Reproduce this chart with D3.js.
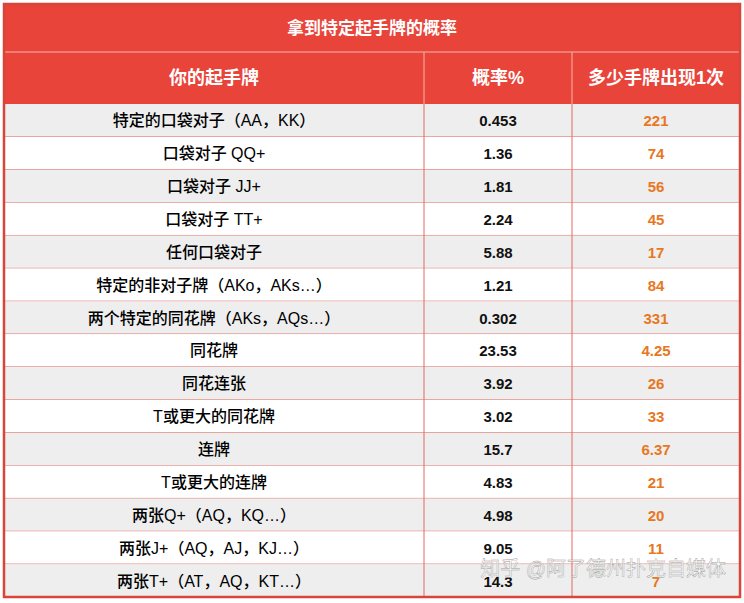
<!DOCTYPE html>
<html><head><meta charset="utf-8">
<script src="https://cdn.jsdelivr.net/npm/d3@7"></script>
<style>body{margin:0;background:#fff}</style>
</head><body><div id="chart"></div>
<script>
const title = "拿到特定起手牌的概率";
const headers = ["你的起手牌", "概率%", "多少手牌出现1次"];
const hands = ["特定的口袋对子（AA，KK）","口袋对子  QQ+","口袋对子  JJ+","口袋对子  TT+","任何口袋对子","特定的非对子牌（AKo，AKs…）","两个特定的同花牌（AKs，AQs…）","同花牌","同花连张","T或更大的同花牌","连牌","T或更大的连牌","两张Q+（AQ，KQ…）","两张J+（AQ，AJ，KJ…）","两张T+（AT，AQ，KT…）"];
const probs = ["0.453","1.36","1.81","2.24","5.88","1.21","0.302","23.53","3.92","3.02","15.7","4.83","4.98","9.05","14.3"];
const every = ["221","74","56","45","17","84","331","4.25","26","33","6.37","21","20","11","7"];

const W = 744, H = 603, L = 4, R = 740, T = 4, B = 597;
const red = "#e8443a", font = "'Liberation Sans','Noto Sans CJK SC',sans-serif";
const svg = d3.select("#chart").append("svg").attr("width", W).attr("height", H);
const cols = [L, 424, 572, R];
const y = d3.scaleBand().domain(d3.range(hands.length)).range([104, B]);

svg.append("rect").attr("x", L).attr("y", T).attr("width", R - L).attr("height", 100).attr("fill", red);
svg.append("line").attr("x1", L).attr("x2", R).attr("y1", 52).attr("y2", 52).attr("stroke", "#f6b5ae");
svg.append("text").attr("x", W / 2).attr("y", 34).attr("text-anchor", "middle").attr("fill", "#fff")
  .attr("font-family", font).attr("font-weight", "bold").attr("font-size", 17).text(title);
headers.forEach((h, i) => {
  svg.append("text").attr("x", (cols[i] + cols[i + 1]) / 2).attr("y", 84).attr("text-anchor", "middle")
    .attr("fill", "#fff").attr("font-family", font).attr("font-weight", "bold").attr("font-size", 18).text(h);
});
[424, 572].forEach(x => svg.append("line").attr("x1", x).attr("x2", x).attr("y1", 52).attr("y2", 104).attr("stroke", "#f6b5ae"));

const rows = svg.selectAll("g.row").data(hands).join("g").attr("transform", (d, i) => `translate(0,${y(i)})`);
rows.append("rect").attr("x", L).attr("width", R - L).attr("height", y.bandwidth())
  .attr("fill", (d, i) => i % 2 === 0 ? "#eeeeee" : "#ffffff");
rows.append("line").attr("x1", L).attr("x2", R).attr("y1", y.bandwidth()).attr("y2", y.bandwidth()).attr("stroke", "#e06a60");
const ty = y.bandwidth() / 2 + 6;
rows.append("text").attr("x", (cols[0] + cols[1]) / 2).attr("y", ty).attr("text-anchor", "middle")
  .attr("font-family", font).attr("font-weight", 500).attr("font-size", 16).attr("fill", "#000").text(d => d);
rows.append("text").attr("x", (cols[1] + cols[2]) / 2).attr("y", ty).attr("text-anchor", "middle")
  .attr("font-family", font).attr("font-weight", "bold").attr("font-size", 15).attr("fill", "#111").text((d, i) => probs[i]);
rows.append("text").attr("x", (cols[2] + cols[3]) / 2).attr("y", ty).attr("text-anchor", "middle")
  .attr("font-family", font).attr("font-weight", "bold").attr("font-size", 15).attr("fill", "#e87722").text((d, i) => every[i]);
[424, 572].forEach(x => svg.append("line").attr("x1", x).attr("x2", x).attr("y1", 104).attr("y2", B).attr("stroke", "#e06a60"));
svg.append("rect").attr("x", L).attr("y", T).attr("width", R - L).attr("height", B - T)
  .attr("fill", "none").attr("stroke", "#d9443b").attr("stroke-width", 2.5);
svg.append("text").attr("x", 726).attr("y", 576).attr("text-anchor", "end").attr("font-family", font)
  .attr("font-size", 20).attr("fill", "#fff").attr("fill-opacity", 0.75).attr("stroke", "#999").attr("stroke-width", 0.4)
  .text("知乎 @阿了德州扑克自媒体");
</script></body></html>
